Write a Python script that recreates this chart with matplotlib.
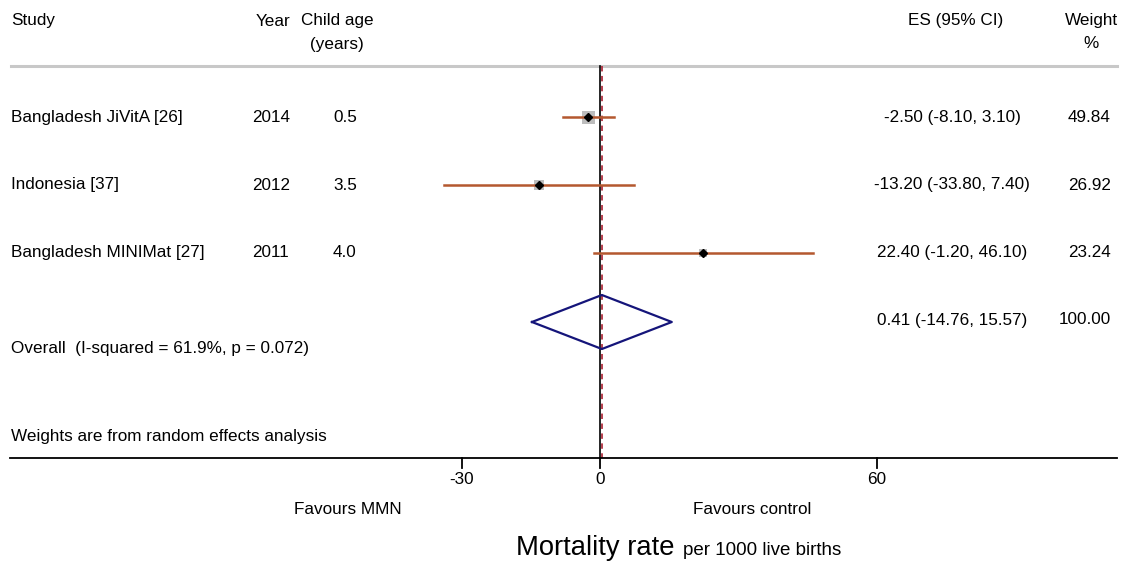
import matplotlib
matplotlib.use("Agg")
import matplotlib.pyplot as plt

plt.rcParams['font.family'] = ['Liberation Sans', 'DejaVu Sans']

# study data
studies = ["Bangladesh JiVitA [26]", "Indonesia [37]", "Bangladesh MINIMat [27]"]
years = ["2014", "2012", "2011"]
ages = ["0.5", "3.5", "4.0"]
es = [-2.50, -13.20, 22.40]
lo = [-8.10, -33.80, -1.20]
hi = [3.10, 7.40, 46.10]
weights = [49.84, 26.92, 23.24]

# pooled estimate
overall_es = 0.41
overall_lo = -14.76
overall_hi = 15.57
overall_label = "Overall  (I-squared = 61.9%, p = 0.072)"

xticks = [-30, 0, 60]

W, H = 1125, 562
scale = 4.61      # pixels per unit
x0 = 600          # pixel of zero
fs = 12.3

fig = plt.figure(figsize=(W / 100, H / 100), dpi=100)
ax = fig.add_axes([0, 0, 1, 1])
ax.set_xlim(-x0 / scale, (W - x0) / scale)
ax.set_ylim(H, 0)
ax.axis("off")

def fx(px):
    return px / W

def fy(py):
    return 1 - py / H

row_y = [117, 185, 253]
y_top = 66
y_axis = 458

# header line
ax.plot([(11 - x0) / scale, (1117 - x0) / scale], [y_top, y_top], color="#c8c8c8", lw=2.2)

# null line and pooled estimate line
ax.plot([0, 0], [y_top, y_axis], color="black", lw=1.2)
ax.plot([overall_es, overall_es], [y_top, y_axis], color="#b03040", lw=1.3,
        linestyle=(0, (3, 2.5)))

# studies
for i in range(len(studies)):
    y = row_y[i]
    side = 13 * (weights[i] / max(weights)) ** 0.5
    ax.plot(es[i], y, marker="s", markersize=side * 0.72, color="#bdbdbd",
            markeredgewidth=0, zorder=2)
    ax.plot([lo[i], hi[i]], [y, y], color="#b4582f", lw=1.8, zorder=3)
    ax.plot(es[i], y, marker="D", markersize=3.6, color="black", zorder=4)

# diamond
yc = 322
ax.plot([overall_lo, overall_es, overall_hi, overall_es, overall_lo],
        [yc, yc - 27, yc, yc + 27, yc], color="#15157a", lw=1.6, zorder=3)

# x axis
ax.plot([(10 - x0) / scale, (1117 - x0) / scale], [y_axis, y_axis], color="black", lw=1.3)
for t in xticks:
    ax.plot([t, t], [y_axis, y_axis + 10], color="black", lw=1.3)
    fig.text(fx(x0 + t * scale), fy(479), str(t), ha="center", va="center", fontsize=fs)

# header texts
fig.text(fx(11), fy(21), "Study", ha="left", va="center", fontsize=fs)
fig.text(fx(290), fy(21), "Year", ha="right", va="center", fontsize=fs)
fig.text(fx(337), fy(21), "Child age", ha="center", va="center", fontsize=fs)
fig.text(fx(337), fy(44), "(years)", ha="center", va="center", fontsize=fs)
fig.text(fx(956), fy(21), "ES (95% CI)", ha="center", va="center", fontsize=fs)
fig.text(fx(1091), fy(21), "Weight", ha="center", va="center", fontsize=fs)
fig.text(fx(1091), fy(44), "%", ha="center", va="center", fontsize=fs)

for i in range(len(studies)):
    y = row_y[i]
    fig.text(fx(11), fy(y), studies[i], ha="left", va="center", fontsize=fs)
    fig.text(fx(252), fy(y), years[i], ha="left", va="center", fontsize=fs)
    fig.text(fx(333), fy(y), ages[i], ha="left", va="center", fontsize=fs)
    fig.text(fx(952), fy(y), "%.2f (%.2f, %.2f)" % (es[i], lo[i], hi[i]),
             ha="center", va="center", fontsize=fs)
    fig.text(fx(1111), fy(y), "%.2f" % weights[i], ha="right", va="center", fontsize=fs)

fig.text(fx(11), fy(348), overall_label, ha="left", va="center", fontsize=fs)
fig.text(fx(952), fy(320), "%.2f (%.2f, %.2f)" % (overall_es, overall_lo, overall_hi),
         ha="center", va="center", fontsize=fs)
fig.text(fx(1111), fy(320), "%.2f" % sum(weights), ha="right", va="center", fontsize=fs)
fig.text(fx(11), fy(437), "Weights are from random effects analysis", ha="left",
         va="center", fontsize=fs)

# favours labels
fig.text(fx(348), fy(509), "Favours MMN", ha="center", va="center", fontsize=fs)
fig.text(fx(752), fy(509), "Favours control", ha="center", va="center", fontsize=fs)

# axis title
fig.text(fx(516), fy(555), "Mortality rate", ha="left", va="baseline", fontsize=19.7)
fig.text(fx(683), fy(555), "per 1000 live births", ha="left", va="baseline", fontsize=13.5)

fig.savefig("out.png", dpi=100)
